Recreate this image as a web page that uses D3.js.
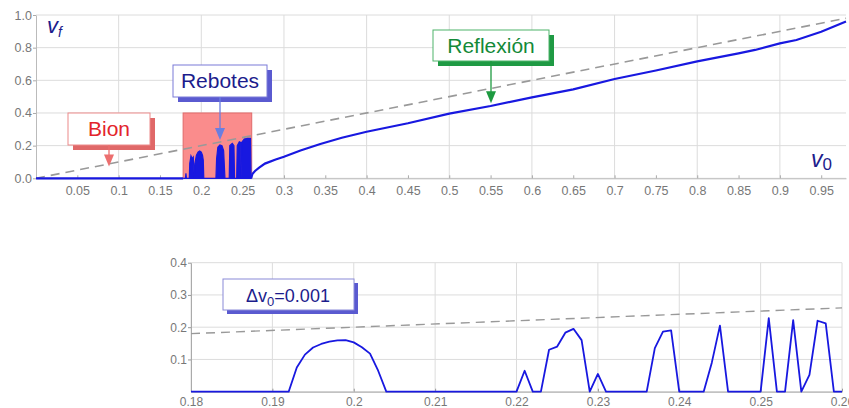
<!DOCTYPE html>
<html>
<head>
<meta charset="utf-8">
<script src="https://cdn.jsdelivr.net/npm/d3@7"></script>
<style>
body { margin: 0; background: #fff; }
svg text { font-family: "Liberation Sans", Arial, sans-serif; }
</style>
</head>
<body>
<div id="chart"></div>
<script>
// top plot: v_f vs v_0
var topXTicks = [0.05,0.1,0.15,0.2,0.25,0.3,0.35,0.4,0.45,0.5,0.55,0.6,0.65,0.7,0.75,0.8,0.85,0.9,0.95];
var topXGrid = [0.1,0.2,0.3,0.4,0.5,0.6,0.7,0.8,0.9];
var topYTicks = [0,0.2,0.4,0.6,0.8,1.0];
var refLineV0 = [0, 0.98];
var bionV0 = [0, 0.178];
var bionVf = [0, 0];
// envelope of the dense bounce spikes
var bounceV0 = [0.178,0.1808,0.1814,0.182,0.1855,0.186,0.1875,0.189,0.1903,0.1915,0.1923,0.194,0.196,0.198,0.2,0.2015,0.2024,0.203,
  0.2177,0.2185,0.22,0.2225,0.225,0.227,0.2286,0.2338,0.2345,0.2375,0.2395,0.2402,0.2428,0.2435,0.246,0.2476,0.2482,0.2488,0.252,0.256,0.2595,0.2602];
var bounceVf = [0,0,0.03,0,0,0.09,0.137,0.12,0.13,0,0.09,0.14,0.16,0.167,0.16,0.14,0.11,0,
  0,0.12,0.19,0.204,0.2,0.17,0,0,0.2,0.214,0.2,0,0,0.2,0.224,0.22,0,0.22,0.24,0.245,0.245,0];
var reflexV0 = [0.2602,0.262,0.265,0.27,0.277,0.29,0.3,0.32,0.344,0.37,0.4,0.45,0.5,0.55,0.6,0.65,0.7,0.75,0.8,0.85,0.87,0.9,0.92,0.95,0.98];
var reflexVf = [0,0.028,0.045,0.065,0.09,0.115,0.132,0.17,0.21,0.248,0.285,0.337,0.396,0.443,0.496,0.545,0.608,0.66,0.716,0.765,0.786,0.826,0.847,0.897,0.96];
var bounceZone = [0.178, 0.261];
var bounceZoneTop = 0.4;

// bottom plot: zoom at dv0 = 0.001
var botXTicks = [0.18,0.19,0.2,0.21,0.22,0.23,0.24,0.25,0.26];
var botYTicks = [0.1,0.2,0.3,0.4];
var botYGrid = [0,0.1,0.2,0.3,0.4];
var zoomV0 = [0.18,0.192,0.193,0.194,0.195,0.196,0.197,0.198,0.199,0.2,0.201,0.202,0.203,0.204,
  0.22,0.221,0.222,0.223,0.224,0.225,0.226,0.227,0.228,0.229,0.23,0.231,
  0.236,0.237,0.238,0.239,0.24,0.243,0.244,0.245,0.246,
  0.25,0.251,0.252,0.253,0.254,0.255,0.256,0.257,0.258,0.259,0.26];
var zoomVf = [0,0,0.075,0.115,0.137,0.148,0.155,0.159,0.16,0.153,0.138,0.118,0.065,0,
  0,0.065,0,0,0.13,0.14,0.183,0.195,0.16,0,0.055,0,
  0,0.135,0.186,0.19,0,0,0.09,0.205,0,
  0,0.228,0,0,0.222,0,0.052,0.22,0.212,0,0];

var blue = '#1818e0';
var navy = '#1c1c8c';
var gridCol = '#dcdcdc';
var tickText = '#777';

var svg = d3.select('#chart').append('svg').attr('width',849).attr('height',408);

function zip(a,b) { return a.map(function(d,i){ return [d,b[i]]; }); }

// ---------- top plot ----------
var x1 = d3.scaleLinear().domain([0,0.98]).range([36,846]);
var y1 = d3.scaleLinear().domain([0,1]).range([178.3,15]);
var topG = svg.append('g');

topG.selectAll('.vg').data(topXGrid).enter().append('line')
  .attr('x1',d=>x1(d)).attr('x2',d=>x1(d)).attr('y1',y1(0)).attr('y2',y1(1))
  .style('stroke',gridCol);
topG.selectAll('.hg').data(topYTicks).enter().append('line')
  .attr('x1',x1(0)).attr('x2',x1(0.98)).attr('y1',d=>y1(d)).attr('y2',d=>y1(d))
  .style('stroke',gridCol);

topG.append('rect')
  .attr('x',x1(bounceZone[0])).attr('y',y1(bounceZoneTop))
  .attr('width',x1(bounceZone[1])-x1(bounceZone[0]))
  .attr('height',y1(0)-y1(bounceZoneTop))
  .style('fill','#fa8c8c').style('stroke','#e06a6a').style('stroke-width',1);

var gx1 = topG.append('g').attr('transform','translate(0,'+y1(0)+')')
  .call(d3.axisBottom(x1).tickValues(topXTicks).tickSizeInner(-3).tickSizeOuter(0).tickPadding(8)
    .tickFormat(d=>String(+d.toFixed(2))));
var gy1 = topG.append('g').attr('transform','translate('+x1(0)+',0)')
  .call(d3.axisLeft(y1).tickValues(topYTicks).tickSizeInner(3).tickSizeOuter(0).tickPadding(1)
    .tickFormat(d3.format('.1f')));
[gx1,gy1].forEach(function(g) {
  g.select('.domain').style('stroke','#bbb');
  g.selectAll('.tick line').style('stroke','#aaa');
  g.selectAll('.tick text').style('fill',tickText).style('font-size','12.5px');
});

var line1 = d3.line().x(d=>x1(d[0])).y(d=>y1(d[1]));
topG.append('path').attr('d',line1(zip(refLineV0,refLineV0)))
  .style('fill','none').style('stroke','#999').style('stroke-width',1.6).style('stroke-dasharray','9,6');
topG.append('path').attr('d',line1(zip(bionV0,bionVf)))
  .style('fill','none').style('stroke',blue).style('stroke-width',2.2);
var area1 = d3.area().x(d=>x1(d[0])).y0(y1(0)).y1(d=>y1(d[1]));
topG.append('path').attr('d',area1(zip(bounceV0,bounceVf)))
  .style('fill',blue).style('stroke',blue).style('stroke-width',1.2);
topG.append('path').attr('d',line1(zip(reflexV0,reflexVf)))
  .style('fill','none').style('stroke',blue).style('stroke-width',2.2);

// axis titles
var vf = topG.append('text').attr('x',47).attr('y',33).style('fill',navy).style('font-size','22px').style('font-style','italic');
vf.append('tspan').text('v');
vf.append('tspan').attr('dy',4).style('font-size','14px').text('f');
var v0 = topG.append('text').attr('x',811).attr('y',167).style('fill',navy).style('font-size','23px').style('font-style','italic');
v0.append('tspan').text('v');
v0.append('tspan').attr('dy',3).style('font-size','17px').style('font-style','normal').text('0');

// callouts
function callout(g, box, text, col, border, shadow, tip, arrowCol) {
  g.append('rect').attr('x',box[0]+5).attr('y',box[1]+5).attr('width',box[2]).attr('height',box[3]).style('fill',shadow);
  g.append('rect').attr('x',box[0]).attr('y',box[1]).attr('width',box[2]).attr('height',box[3])
    .style('fill','#fff').style('stroke',border).style('stroke-width',1);
  g.append('text').attr('x',box[0]+box[2]/2).attr('y',box[1]+box[3]/2+7)
    .attr('text-anchor','middle').style('font-size','21px').style('fill',col).text(text);
  if (tip) {
    var cx = box[0]+box[2]/2;
    g.append('line').attr('x1',cx).attr('x2',cx).attr('y1',box[1]+box[3]).attr('y2',tip[1]-10)
      .style('stroke',arrowCol).style('stroke-width',1.3);
    g.append('path').attr('d','M'+(cx-5)+','+(tip[1]-12)+'L'+(cx+5)+','+(tip[1]-12)+'L'+cx+','+tip[1]+'Z')
      .style('fill',arrowCol);
  }
}
callout(topG,[68,113,82,32],'Bion','#e3242b','#ec8a8a','#e06868',[0,y1(0.072)],'#ec6f6f');
callout(topG,[173,65,94,32],'Rebotes',navy,'#7a7ad8','#5a5ad0',[0,y1(0.234)],'#6a7ee0');
callout(topG,[433,30,116,31],'Reflexión','#138a38','#4fb36a','#1f9a44',[0,y1(0.46)],'#1e9a40');

// ---------- bottom plot ----------
var x2 = d3.scaleLinear().domain([0.18,0.26]).range([191,842]);
var y2 = d3.scaleLinear().domain([0,0.4]).range([391.7,262.7]);
var bot = svg.append('g');

bot.selectAll('.vg').data(botXTicks).enter().append('line')
  .attr('x1',d=>x2(d)).attr('x2',d=>x2(d)).attr('y1',y2(0)).attr('y2',y2(0.4))
  .style('stroke',gridCol);
bot.selectAll('.hg').data(botYGrid).enter().append('line')
  .attr('x1',x2(0.18)).attr('x2',x2(0.26)).attr('y1',d=>y2(d)).attr('y2',d=>y2(d))
  .style('stroke',gridCol);

var gx2 = bot.append('g').attr('transform','translate(0,'+y2(0)+')')
  .call(d3.axisBottom(x2).tickValues(botXTicks).tickSizeInner(-3).tickSizeOuter(0).tickPadding(6)
    .tickFormat(d=>String(+d.toFixed(2))));
var gy2 = bot.append('g').attr('transform','translate('+x2(0.18)+',0)')
  .call(d3.axisLeft(y2).tickValues(botYTicks).tickSizeInner(3).tickSizeOuter(0).tickPadding(1)
    .tickFormat(d3.format('.1f')));
[gx2,gy2].forEach(function(g) {
  g.select('.domain').style('stroke','#aaa');
  g.selectAll('.tick line').style('stroke','#999');
  g.selectAll('.tick text').style('fill',tickText).style('font-size','12px');
});

var line2 = d3.line().x(d=>x2(d[0])).y(d=>y2(d[1]));
bot.append('path').attr('d',line2(zip([0.18,0.26],[0.18,0.26])))
  .style('fill','none').style('stroke','#999').style('stroke-width',1.4).style('stroke-dasharray','9,6');
bot.append('path').attr('d',line2(zip(zoomV0,zoomVf)))
  .style('fill','none').style('stroke',blue).style('stroke-width',1.8).style('stroke-linejoin','round');

bot.append('rect').attr('x',227).attr('y',283).attr('width',131).attr('height',31).style('fill','#5a5ad0');
bot.append('rect').attr('x',223).attr('y',279).attr('width',131).attr('height',31)
  .style('fill','#fff').style('stroke','#8a8ad8');
var dv = bot.append('text').attr('x',288).attr('y',302).attr('text-anchor','middle')
  .style('font-size','18px').style('fill',navy);
dv.append('tspan').text('\u0394v');
dv.append('tspan').attr('dy',4).style('font-size','13px').text('0');
dv.append('tspan').attr('dy',-4).text('=0.001');
</script>
